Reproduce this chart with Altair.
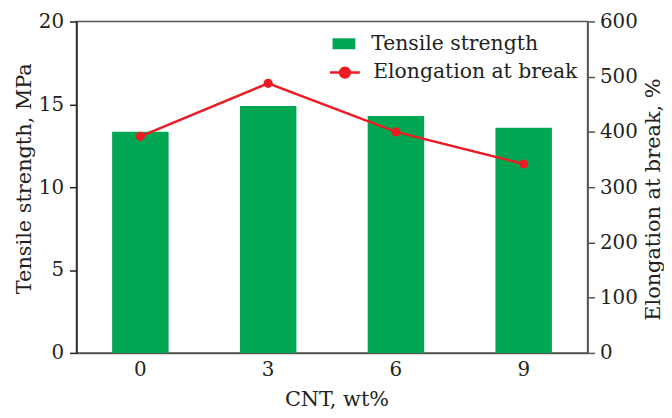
import altair as alt
import pandas as pd

cnt = ["0", "3", "6", "9"]
tensile = [13.34, 14.89, 14.29, 13.58]
elong = [392, 488, 400, 342]

GREEN = "#00A651"
RED = "#ED1C24"
FONT = "DejaVu Serif"
TXT = "#231F20"
AXC = "#555555"

df = pd.DataFrame({
    "cnt": cnt,
    "tensile": tensile,
    "elong": elong,
    "s1": ["Tensile strength"] * 4,
    "s2": ["Elongation at break"] * 4,
})

x_enc = alt.X(
    "cnt:N", sort=cnt,
    scale=alt.Scale(paddingInner=0.558, paddingOuter=0.279),
    axis=alt.Axis(title="CNT, wt%", labelAngle=0, ticks=False, labelPadding=7,
                  titlePadding=9, titleX=262, domainColor=AXC, domainWidth=1.5),
)

bars = alt.Chart(df).mark_bar().encode(
    x=x_enc,
    y=alt.Y("tensile:Q", scale=alt.Scale(domain=[0, 20], nice=False),
            axis=alt.Axis(values=[0, 5, 10, 15, 20], title="Tensile strength, MPa",
                          tickSize=7, labelPadding=6, titlePadding=4, grid=False, titleY=158,
                          domainColor=TXT, tickColor=TXT, domainWidth=1.5, tickWidth=1.5)),
    fill=alt.Fill("s1:N", scale=alt.Scale(domain=["Tensile strength"], range=[GREEN]),
                  legend=alt.Legend(title=None, orient="none", legendX=258, legendY=11,
                                    symbolType="M-1,-0.48H1V0.48H-1Z", symbolSize=529,
                                    symbolStrokeWidth=0, labelOffset=16, padding=0,
                                    labelLimit=0)),
)

line = alt.Chart(df).mark_line(
    strokeWidth=2.5,
    point=alt.OverlayMarkDef(filled=True, fill=RED, size=85, strokeWidth=0),
).encode(
    x=x_enc,
    y=alt.Y("elong:Q", scale=alt.Scale(domain=[0, 600], nice=False),
            axis=alt.Axis(orient="right", values=[0, 100, 200, 300, 400, 500, 600],
                          title="Elongation at break, %", titleAngle=-90, titleBaseline="top",
                          titleY=179,
                          tickSize=7, labelPadding=5, titlePadding=5, grid=False,
                          domainColor=AXC, tickColor=AXC, domainWidth=1.5, tickWidth=1.5)),
    stroke=alt.Stroke("s2:N", scale=alt.Scale(domain=["Elongation at break"], range=[RED]),
                      legend=alt.Legend(title=None, orient="none", legendX=254, legendY=35,
                                        symbolType="M-1,0H1M0.33,0A0.33,0.33,0,1,1,-0.33,0A0.33,0.33,0,1,1,0.33,0Z",
                                        symbolSize=900, symbolStrokeWidth=2.5,
                                        symbolFillColor=RED, labelOffset=12, padding=0,
                                        labelLimit=0)),
)

chart = alt.layer(bars, line).resolve_scale(y="independent").properties(
    width=515, height=334,
    padding={"left": 5, "top": 2, "right": 0, "bottom": 0},
).configure(
    font=FONT,
).configure_view(
    stroke=AXC, strokeWidth=1.5,
).configure_axis(
    labelFont=FONT, titleFont=FONT, labelFontSize=20, titleFontSize=21,
    labelColor=TXT, titleColor=TXT, titleFontWeight="normal",
).configure_legend(
    labelFont=FONT, labelFontSize=20.5, labelColor=TXT,
)

chart.save("out.html", embed_options={"renderer": "svg", "actions": False})
